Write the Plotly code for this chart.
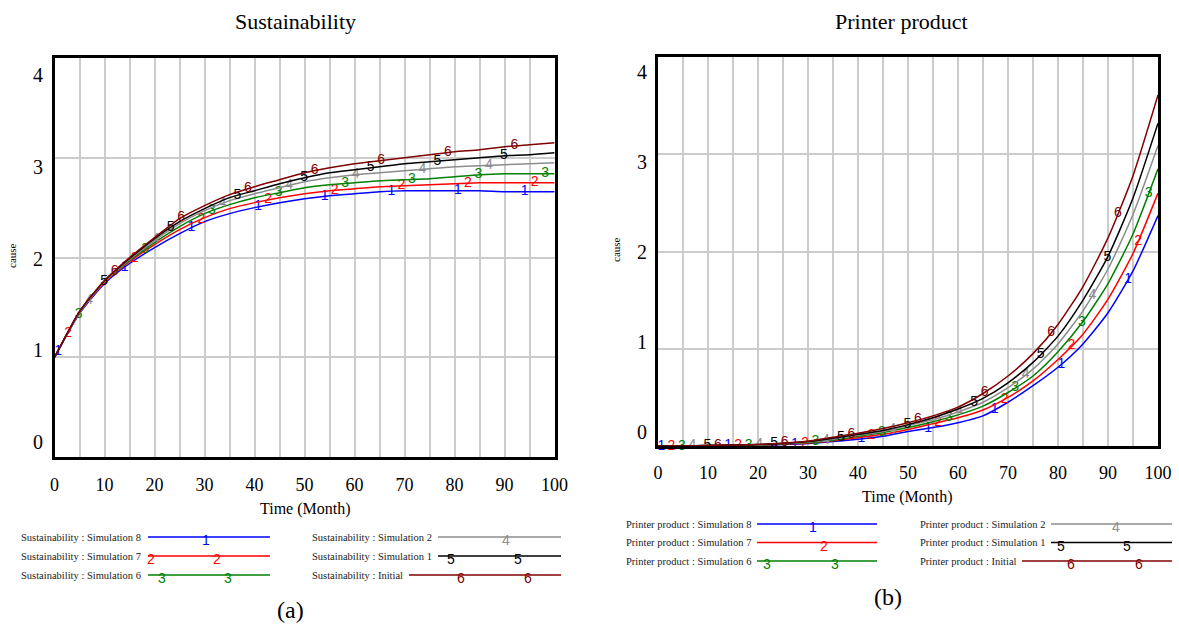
import plotly.graph_objects as go

W, H = 1179, 630

# ---------------- data ----------------
months = [0, 5, 10, 15, 20, 25, 30, 35, 40, 45, 50, 55, 60, 65, 70, 75, 80, 85, 90, 95, 100]

series_names = ["Simulation 8", "Simulation 7", "Simulation 6", "Simulation 2", "Simulation 1", "Initial"]
series_nums = ["1", "2", "3", "4", "5", "6"]
colors = ["#0000ff", "#ff0000", "#008000", "#8c8c8c", "#000000", "#800000"]

# Sustainability (left)
sus_sim8 = [1.00, 1.44, 1.74, 1.94, 2.10, 2.24, 2.36, 2.44, 2.50, 2.55, 2.59, 2.62, 2.64, 2.66, 2.67, 2.67, 2.67, 2.67, 2.66, 2.66, 2.66]
sus_sim7 = [1.00, 1.45, 1.75, 1.96, 2.13, 2.28, 2.40, 2.49, 2.55, 2.60, 2.64, 2.67, 2.69, 2.71, 2.72, 2.73, 2.74, 2.75, 2.75, 2.75, 2.75]
sus_sim6 = [1.00, 1.45, 1.76, 1.97, 2.15, 2.31, 2.44, 2.53, 2.60, 2.65, 2.70, 2.73, 2.75, 2.77, 2.78, 2.79, 2.81, 2.83, 2.84, 2.84, 2.84]
sus_sim2 = [1.00, 1.45, 1.76, 1.98, 2.17, 2.34, 2.47, 2.57, 2.64, 2.70, 2.76, 2.80, 2.83, 2.85, 2.87, 2.89, 2.91, 2.92, 2.93, 2.94, 2.95]
sus_sim1 = [1.00, 1.46, 1.77, 1.99, 2.19, 2.36, 2.49, 2.60, 2.67, 2.74, 2.80, 2.85, 2.88, 2.91, 2.94, 2.96, 2.98, 3.00, 3.02, 3.03, 3.05]
sus_init = [1.00, 1.46, 1.77, 2.00, 2.20, 2.39, 2.52, 2.63, 2.71, 2.78, 2.85, 2.90, 2.94, 2.97, 3.00, 3.03, 3.06, 3.08, 3.11, 3.13, 3.15]

# Printer product (right)
pp_sim8 = [0.0, 0.0, 0.003, 0.005, 0.008, 0.015, 0.025, 0.045, 0.07, 0.10, 0.15, 0.19, 0.24, 0.31, 0.45, 0.62, 0.81, 1.05, 1.37, 1.80, 2.37]
pp_sim7 = [0.0, 0.0, 0.004, 0.006, 0.010, 0.018, 0.030, 0.055, 0.085, 0.12, 0.17, 0.23, 0.29, 0.37, 0.50, 0.67, 0.89, 1.15, 1.51, 1.98, 2.60]
pp_sim6 = [0.0, 0.0, 0.004, 0.008, 0.010, 0.020, 0.035, 0.060, 0.10, 0.14, 0.19, 0.25, 0.32, 0.41, 0.55, 0.72, 0.97, 1.28, 1.67, 2.18, 2.85]
pp_sim2 = [0.0, 0.0, 0.005, 0.010, 0.012, 0.022, 0.040, 0.070, 0.11, 0.15, 0.21, 0.27, 0.35, 0.45, 0.60, 0.79, 1.05, 1.39, 1.82, 2.38, 3.09]
pp_sim1 = [0.0, 0.0, 0.005, 0.010, 0.015, 0.025, 0.045, 0.080, 0.12, 0.16, 0.22, 0.29, 0.38, 0.49, 0.65, 0.86, 1.13, 1.50, 1.95, 2.55, 3.32]
pp_init = [0.0, 0.0, 0.005, 0.010, 0.015, 0.030, 0.050, 0.090, 0.13, 0.18, 0.24, 0.31, 0.40, 0.54, 0.72, 0.95, 1.25, 1.64, 2.14, 2.78, 3.61]

x_ticks = [0, 10, 20, 30, 40, 50, 60, 70, 80, 90, 100]
y_tick_labels = ["4", "3", "2", "1", "0"]

# line-number label schedule (Vensim style)
label_offsets = [0.7, 2.7, 4.8, 6.9, 9.9, 12.0]
label_period = 13.33

panels = [
    dict(title="Sustainability", var="Sustainability", data=[sus_sim8, sus_sim7, sus_sim6, sus_sim2, sus_sim1, sus_init], tag="(a)"),
    dict(title="Printer product", var="Printer product", data=[pp_sim8, pp_sim7, pp_sim6, pp_sim2, pp_sim1, pp_init], tag="(b)"),
]

# ---------------- layout geometry (pixels) ----------------
geo = [
    dict(x0=54.6, x1=554.6, y0=58, y1=457, title_x=295, title_y=22, xt_y=509, xt_x=305, tag_x=290, tag_y=610,
         ytl_x=38, ytl_y0=75, ytl_y1=442, cause_x=12, cause_y=256, standoff=9,
         leg_rows=[537, 556, 575], leg_text_x=[19, 310],
         leg_lines=[[(148, 270), (148, 270), (148, 270)], [(438, 561), (438, 561), (409, 561)]],
         leg_nums=[[[206], [151, 217], [162, 228]], [[506], [451, 518], [461, 528]]]),
    dict(x0=658, x1=1158, y0=57, y1=446, title_x=901, title_y=22, xt_y=497, xt_x=907, tag_x=888, tag_y=597,
         ytl_x=642, ytl_y0=72, ytl_y1=432, cause_x=616, cause_y=250, standoff=8,
         leg_rows=[524, 542.5, 561], leg_text_x=[623.5, 918],
         leg_lines=[[(757, 877), (757, 877), (757, 877)], [(1051, 1172), (1051, 1172), (1022, 1172)]],
         leg_nums=[[[813], [824], [767, 835]], [[1116], [1061, 1127], [1071, 1139]]]),
]


def px(x):
    return x / W


def py(y):
    return 1 - y / H


def interp(tq, xs, ys):
    for i in range(len(xs) - 1):
        if xs[i] <= tq <= xs[i + 1]:
            f = (tq - xs[i]) / (xs[i + 1] - xs[i])
            return ys[i] + f * (ys[i + 1] - ys[i])
    return ys[-1]


fig = go.Figure()
annotations = []
shapes = []
SERIF = "Liberation Serif"
SANS = "Liberation Sans"

for p_i, (panel, g) in enumerate(zip(panels, geo)):
    xa = "x" if p_i == 0 else "x2"
    ya = "y" if p_i == 0 else "y2"
    for s_i, vals in enumerate(panel["data"]):
        fig.add_trace(go.Scatter(
            x=months, y=vals, mode="lines", xaxis=xa, yaxis=ya,
            line=dict(color=colors[s_i], width=1.5, shape="spline", smoothing=0.6),
            showlegend=False, hoverinfo="skip"))
        lt = []
        k = 0
        while label_offsets[s_i] + k * label_period <= 100:
            lt.append(label_offsets[s_i] + k * label_period)
            k += 1
        ly = [interp(tq, months, vals) for tq in lt]
        fig.add_trace(go.Scatter(
            x=lt, y=ly, mode="text", text=[series_nums[s_i]] * len(lt), xaxis=xa, yaxis=ya,
            textposition="middle center", cliponaxis=False,
            textfont=dict(color=colors[s_i], size=14, family=SANS),
            showlegend=False, hoverinfo="skip"))

    # titles / labels
    annotations.append(dict(text=panel["title"], x=px(g["title_x"]), y=py(g["title_y"]), xref="paper", yref="paper",
                            showarrow=False, xanchor="center", yanchor="middle",
                            font=dict(family=SERIF, size=22, color="black")))
    annotations.append(dict(text="Time (Month)", x=px(g["xt_x"]), y=py(g["xt_y"]), xref="paper", yref="paper",
                            showarrow=False, xanchor="center", yanchor="middle",
                            font=dict(family=SERIF, size=16, color="black")))
    annotations.append(dict(text=panel["tag"], x=px(g["tag_x"]), y=py(g["tag_y"]), xref="paper", yref="paper",
                            showarrow=False, xanchor="center", yanchor="middle",
                            font=dict(family=SERIF, size=24, color="black")))
    annotations.append(dict(text="cause", x=px(g["cause_x"]), y=py(g["cause_y"]), xref="paper", yref="paper",
                            showarrow=False, xanchor="center", yanchor="middle", textangle=-90,
                            font=dict(family=SERIF, size=11, color="black")))
    n = len(y_tick_labels)
    for i, lab in enumerate(y_tick_labels):
        yy = g["ytl_y0"] + i * (g["ytl_y1"] - g["ytl_y0"]) / (n - 1)
        annotations.append(dict(text=lab, x=px(g["ytl_x"]), y=py(yy), xref="paper", yref="paper",
                                showarrow=False, xanchor="center", yanchor="middle",
                                font=dict(family=SERIF, size=20, color="black")))

    # custom legend
    for col in range(2):
        for row in range(3):
            s_i = col * 3 + row
            yrow = g["leg_rows"][row]
            annotations.append(dict(text=f"{panel['var']} : {series_names[s_i]}", x=px(g["leg_text_x"][col]),
                                    y=py(yrow), xref="paper", yref="paper", showarrow=False,
                                    xanchor="left", yanchor="middle",
                                    font=dict(family=SERIF, size=10.5, color="#222222")))
            lx0, lx1 = g["leg_lines"][col][row]
            shapes.append(dict(type="line", xref="paper", yref="paper", x0=px(lx0), x1=px(lx1),
                               y0=py(yrow), y1=py(yrow), line=dict(color=colors[s_i], width=1.5)))
            for nx in g["leg_nums"][col][row]:
                annotations.append(dict(text=series_nums[s_i], x=px(nx), y=py(yrow + 3), xref="paper",
                                        yref="paper", showarrow=False, xanchor="center", yanchor="middle",
                                        font=dict(family=SANS, size=14, color=colors[s_i])))

axis_common_x = dict(range=[0, 100], tickmode="array", tickvals=x_ticks, ticktext=[str(v) for v in x_ticks],
                     showgrid=True, gridcolor="#cccccc", gridwidth=1.5,
                     minor=dict(dtick=5, tick0=0, showgrid=True, gridcolor="#cccccc", gridwidth=1.5),
                     showline=True, mirror=True, linecolor="black", linewidth=3, zeroline=False,
                     ticks="", tickfont=dict(family=SERIF, size=18, color="black"), fixedrange=True,
                     automargin=False)
axis_common_y = dict(range=[0, 4], dtick=1, tick0=0, showgrid=True, gridcolor="#cccccc", gridwidth=2,
                     showline=True, mirror=True, linecolor="black", linewidth=3, zeroline=False,
                     showticklabels=False, ticks="", fixedrange=True, automargin=False)

g0, g1 = geo
fig.update_layout(
    width=W, height=H, autosize=False,
    margin=dict(l=0, r=0, t=0, b=0, pad=0, autoexpand=False),
    paper_bgcolor="white", plot_bgcolor="white",
    xaxis=dict(axis_common_x, domain=[px(g0["x0"]), px(g0["x1"])], anchor="y", ticklabelstandoff=g0["standoff"]),
    yaxis=dict(axis_common_y, domain=[py(g0["y1"]), py(g0["y0"])], anchor="x"),
    xaxis2=dict(axis_common_x, domain=[px(g1["x0"]), px(g1["x1"])], anchor="y2", ticklabelstandoff=g1["standoff"]),
    yaxis2=dict(axis_common_y, domain=[py(g1["y1"]), py(g1["y0"])], anchor="x2"),
    annotations=annotations,
    shapes=shapes,
    showlegend=False,
)

fig.write_html("out.html", config={"displayModeBar": False},
               post_script="document.body.style.margin='0';document.body.style.overflow='hidden';")
